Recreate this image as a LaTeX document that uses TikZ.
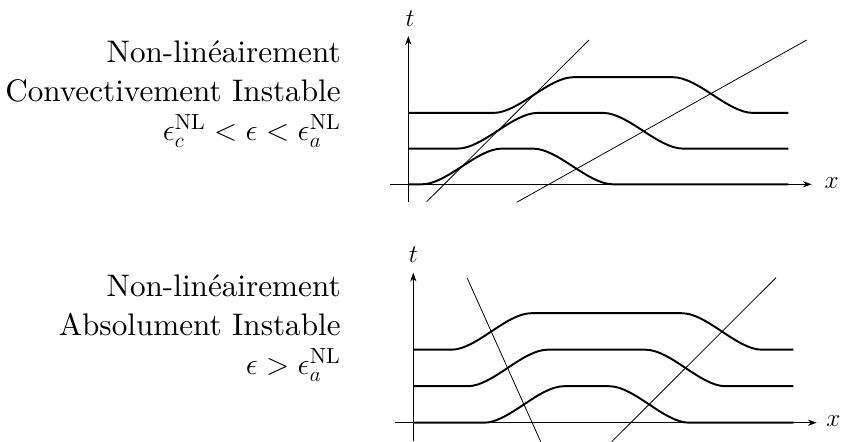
\documentclass[tikz,border=0pt]{standalone}
\usepackage{fontspec}
\setmainfont{lmroman10}[Extension=.otf,UprightFont=*-regular,ItalicFont=*-italic,BoldFont=*-bold]
\usetikzlibrary{arrows.meta}
\tikzset{
  axe/.style={line width=0.5pt,-{Stealth[length=5pt,width=3.5pt]}},
  front/.style={line width=1.1pt},
  droite/.style={line width=0.45pt},
  texte/.style={align=right,inner sep=0pt,font=\fontsize{17.75}{22.2}\selectfont},
  lettre/.style={font=\Large,inner sep=0pt},
  marche/.style={to path={.. controls +(25,0) and +(-25,0) .. (\tikztotarget)}}
}
\begin{document}
\begin{tikzpicture}[x=0.02cm,y=-0.02cm]
  \useasboundingbox (0,0) rectangle (842,441);
  % en haut : convectivement instable
  \node[texte,anchor=north east] (convectif) at (341,40)
    {Non-linéairement\\Convectivement Instable\\$\epsilon_c^{\mathrm{NL}}<\epsilon<\epsilon_a^{\mathrm{NL}}$};
  \coordinate (o1) at (408.3,184.3);
  \draw[axe] (408.3,201.7) -- (408.3,36) coordinate (t1);
  \draw[axe] (390,184.3) -- (811.7,184.3) coordinate (x1);
  \node[lettre] (lt1) at (410,19) {$t$};
  \node[lettre] (lx1) at (831.7,183) {$x$};
  \draw[front] (o1) -- (421.9,184.3) to[marche] (501.9,148.6) -- (533,148.6)
    to[marche] (613,184.3) -- (788.3,184.3);
  \draw[front] (408.3,148.6) -- (457.6,148.6) to[marche] (537.6,112.9) -- (603,112.9)
    to[marche] (683,148.6) -- (788.3,148.6);
  \draw[front] (408.3,112.9) -- (493.5,112.9) to[marche] (573.5,77.2) -- (673,77.2)
    to[marche] (753,112.9) -- (788.3,112.9);
  \draw[droite] (426.7,201.7) -- (589,40);
  \draw[droite] (516.7,202.3) -- (806.7,40);
  % en bas : absolument instable
  \node[texte,anchor=north east] (absolu) at (341,274)
    {Non-linéairement\\Absolument Instable\\$\epsilon>\epsilon_a^{\mathrm{NL}}$};
  \coordinate (o2) at (413.3,422.7);
  \draw[axe] (413.3,441) -- (413.3,272.7) coordinate (t2);
  \draw[axe] (395,422.7) -- (816.7,422.7) coordinate (x2);
  \node[lettre] (lt2) at (413.3,255) {$t$};
  \node[lettre] (lx2) at (833.3,421.5) {$x$};
  \draw[front] (o2) -- (483.9,422.7) to[marche] (563.9,386.2) -- (609.2,386.2)
    to[marche] (689.2,422.7) -- (793.3,422.7);
  \draw[front] (413.3,386.2) -- (467.6,386.2) to[marche] (547.6,349.7) -- (645.5,349.7)
    to[marche] (725.5,386.2) -- (793.3,386.2);
  \draw[front] (413.3,349.7) -- (451.3,349.7) to[marche] (531.3,313.2) -- (681.9,313.2)
    to[marche] (761.9,349.7) -- (793.3,349.7);
  \draw[droite] (467.3,278.3) -- (540.7,441.7);
  \draw[droite] (611.7,441.7) -- (776,277.7);
\end{tikzpicture}
\end{document}
